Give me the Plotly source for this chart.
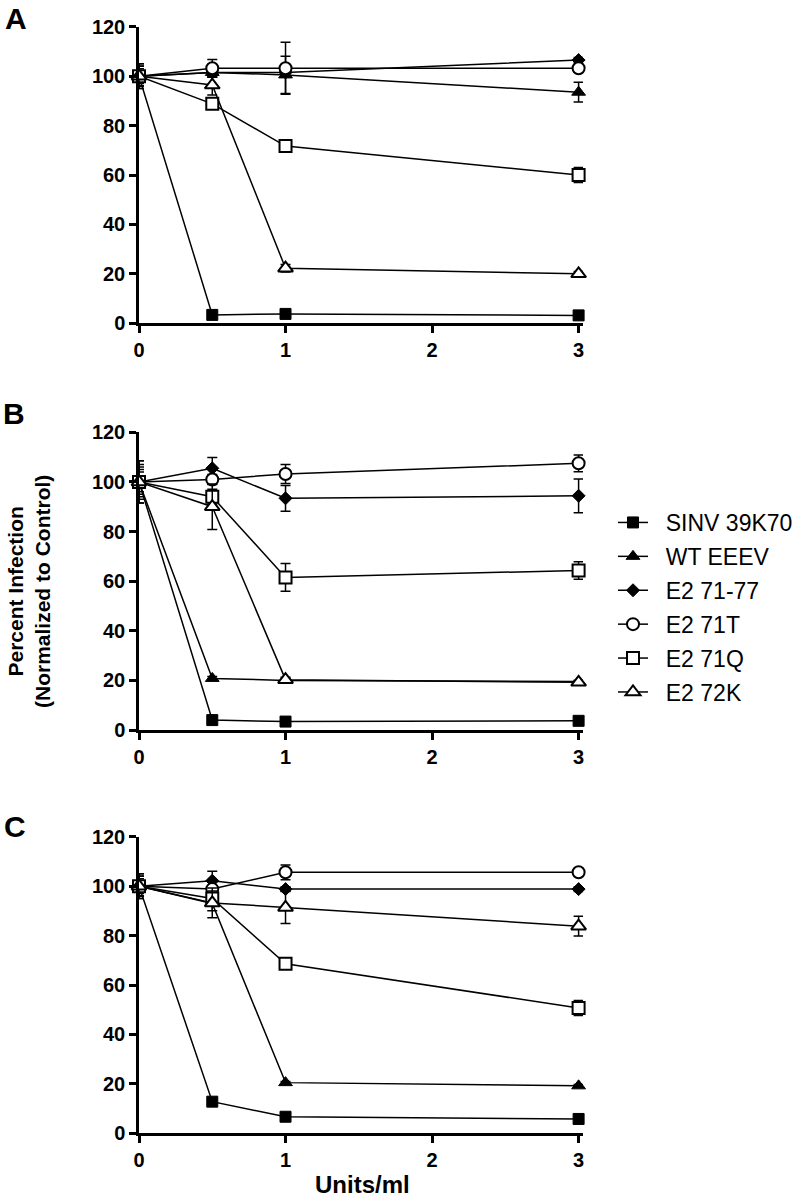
import plotly.graph_objects as go

doses = [0, 0.5, 1, 3]
series_names = ["SINV 39K70", "WT EEEV", "E2 71-77", "E2 71T", "E2 71Q", "E2 72K"]

# Panel A values and SEM
A_vals = {
    "SINV 39K70": [100, 3.4, 3.8, 3.2],
    "WT EEEV":    [100, 101.5, 100.5, 93.5],
    "E2 71-77":   [100, 101.5, 101.5, 106.5],
    "E2 71T":     [100, 103.2, 103.2, 103.2],
    "E2 71Q":     [100, 88.8, 71.7, 60.0],
    "E2 72K":     [100, 96.4, 22.3, 20.0],
}
A_err = {
    "SINV 39K70": [3, 0.5, 0.5, 0.5],
    "WT EEEV":    [4, 2, 7.5, 4],
    "E2 71-77":   [4, 2, 2, 1],
    "E2 71T":     [5, 3.5, 10.5, 1.5],
    "E2 71Q":     [4, 2, 1.5, 3],
    "E2 72K":     [5, 4, 1.5, 1],
}
# Panel B
B_vals = {
    "SINV 39K70": [100, 4.0, 3.4, 3.7],
    "WT EEEV":    [100, 20.8, 20.0, 19.5],
    "E2 71-77":   [100, 105.5, 93.4, 94.4],
    "E2 71T":     [100, 101.0, 103.2, 107.5],
    "E2 71Q":     [100, 94.0, 61.5, 64.3],
    "E2 72K":     [100, 90.0, 20.3, 19.2],
}
B_err = {
    "SINV 39K70": [4, 0.5, 0.5, 0.5],
    "WT EEEV":    [5, 0.8, 0.8, 0.5],
    "E2 71-77":   [8.5, 4.3, 5.2, 6.8],
    "E2 71T":     [6, 2, 3.8, 3.4],
    "E2 71Q":     [7, 3, 5.6, 3.5],
    "E2 72K":     [8.5, 9.2, 1, 0.8],
}
# Panel C
C_vals = {
    "SINV 39K70": [100, 12.8, 6.7, 5.8],
    "WT EEEV":    [100, 93.0, 20.5, 19.2],
    "E2 71-77":   [100, 102.2, 98.8, 98.8],
    "E2 71T":     [100, 98.8, 105.6, 105.6],
    "E2 71Q":     [100, 95.0, 68.6, 50.7],
    "E2 72K":     [100, 93.2, 91.4, 83.8],
}
C_err = {
    "SINV 39K70": [3, 0.5, 0.5, 0.5],
    "WT EEEV":    [4, 3, 0.5, 0.5],
    "E2 71-77":   [5, 3.8, 1, 1],
    "E2 71T":     [4, 3, 3, 1],
    "E2 71Q":     [4, 3, 1.5, 3],
    "E2 72K":     [5, 6, 6.5, 4],
}

x_ticks = [0, 1, 2, 3]
y_ticks = [0, 20, 40, 60, 80, 100, 120]
panel_labels = ["A", "B", "C"]

styles = {
    "SINV 39K70": dict(symbol="square", size=11, color="black", line=dict(color="black", width=1)),
    "WT EEEV":    dict(symbol="triangle-up", size=12, color="black", line=dict(color="black", width=1)),
    "E2 71-77":   dict(symbol="diamond", size=10, color="black", line=dict(color="black", width=1)),
    "E2 71T":     dict(symbol="circle", size=12, color="white", line=dict(color="black", width=2)),
    "E2 71Q":     dict(symbol="square", size=12, color="white", line=dict(color="black", width=2)),
    "E2 72K":     dict(symbol="triangle-up", size=13, color="white", line=dict(color="black", width=2)),
}

fig = go.Figure()
panels = [(A_vals, A_err), (B_vals, B_err), (C_vals, C_err)]
for i, (vals, errs) in enumerate(panels):
    ax = "" if i == 0 else str(i + 1)
    for name in series_names:
        fig.add_trace(go.Scatter(
            x=doses, y=vals[name],
            mode="lines+markers",
            name="\u00a0\u00a0" + name,
            legendgroup=name,
            showlegend=(i == 1),
            line=dict(color="black", width=1.5),
            marker=styles[name],
            error_y=dict(type="data", array=errs[name], visible=True,
                         color="black", thickness=1.5, width=5),
            cliponaxis=False,
            xaxis="x" + ax, yaxis="y" + ax,
        ))

W, H = 800, 1200


def fx(px):
    return px / W


def fy(py):
    return 1 - py / H


FONT = "Liberation Sans, Arial, sans-serif"
xdom = [fx(139), fx(583)]
ydoms = [[fy(323.3), fy(26.7)],
         [fy(730), fy(432.3)],
         [fy(1133.3), fy(836.7)]]

axis_common = dict(showline=True, linecolor="black", linewidth=2.5,
                   ticks="outside", ticklen=7, tickwidth=2.5, tickcolor="black",
                   showgrid=False, zeroline=False, automargin=False,
                   tickfont=dict(family=FONT, size=20, color="black", weight="bold"))

layout = dict(
    template="none",
    width=W, height=H,
    paper_bgcolor="white", plot_bgcolor="white",
    margin=dict(l=0, r=0, t=0, b=0, pad=0),
    font=dict(family=FONT, color="black"),
    legend=dict(x=fx(613), y=fy(501), xanchor="left", yanchor="top",
                font=dict(family=FONT, size=23, color="black"),
                tracegroupgap=1, bgcolor="rgba(0,0,0,0)"),
)
for i in range(3):
    ax = "" if i == 0 else str(i + 1)
    layout["xaxis" + ax] = dict(axis_common, domain=xdom, range=[0, 3.03],
                                tickvals=x_ticks, anchor="y" + ax)
    layout["yaxis" + ax] = dict(axis_common, domain=ydoms[i], range=[0, 120],
                                tickvals=y_ticks, anchor="x" + ax)
fig.update_layout(**layout)

letter_pos = [(16, 0, "top"), (14, 413, "middle"), (15, 826, "middle")]
for lab, (px, py, anch) in zip(panel_labels, letter_pos):
    fig.add_annotation(text=lab, x=fx(px), y=fy(py), xref="paper", yref="paper",
                       showarrow=False, xanchor="center", yanchor=anch,
                       font=dict(family=FONT, size=30, color="black", weight="bold"))

fig.add_annotation(text="Percent Infection<br>(Normalized to Control)", textangle=-90,
                   x=fx(29), y=fy(592), xref="paper", yref="paper",
                   showarrow=False, xanchor="center", yanchor="middle",
                   font=dict(family=FONT, size=21, color="black", weight="bold"))
fig.add_annotation(text="Units/ml", x=fx(362), y=0, xref="paper", yref="paper",
                   showarrow=False, xanchor="center", yanchor="bottom",
                   font=dict(family=FONT, size=24, color="black", weight="bold"))

fig.write_html("out.html",
               config={"displayModeBar": False},
               post_script="document.body.style.margin='0px';"
                           "document.documentElement.style.overflow='hidden';")
